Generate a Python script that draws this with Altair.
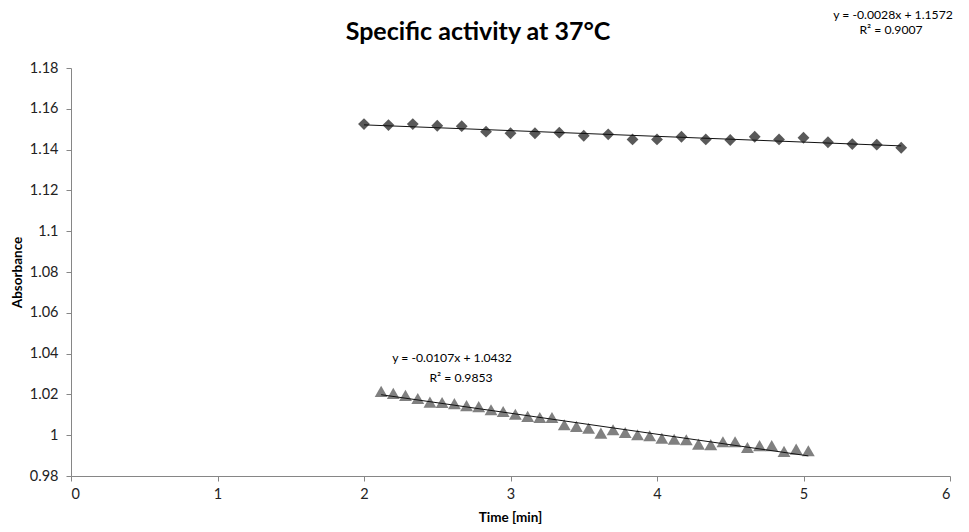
import altair as alt
import pandas as pd

# ---- data ----
time_upper = [2.000, 2.167, 2.333, 2.500, 2.667, 2.833, 3.000, 3.167, 3.333, 3.500, 3.667, 3.833,
              4.000, 4.167, 4.333, 4.500, 4.667, 4.833, 5.000, 5.167, 5.333, 5.500, 5.667]
abs_upper = [1.1525, 1.1520, 1.1525, 1.1517, 1.1515, 1.1488, 1.1480, 1.1480, 1.1483, 1.1468, 1.1475, 1.1450,
             1.1450, 1.1463, 1.1450, 1.1447, 1.1463, 1.1450, 1.1458, 1.1436, 1.1427, 1.1424, 1.1409]

time_lower = [2.117, 2.200, 2.283, 2.367, 2.450, 2.533, 2.617, 2.700, 2.783, 2.867, 2.950, 3.033,
              3.117, 3.200, 3.283, 3.367, 3.450, 3.533, 3.617, 3.700, 3.783, 3.867, 3.950, 4.033,
              4.117, 4.200, 4.283, 4.367, 4.450, 4.533, 4.617, 4.700, 4.783, 4.867, 4.950, 5.033]
abs_lower = [1.0215, 1.0205, 1.0195, 1.0180, 1.0162, 1.0160, 1.0155, 1.0145, 1.0140, 1.0125, 1.0116, 1.0103,
             1.0092, 1.0087, 1.0087, 1.0051, 1.0043, 1.0034, 1.0010, 1.0027, 1.0013, 1.0002, 0.9997, 0.9985,
             0.9980, 0.9978, 0.9956, 0.9954, 0.9968, 0.9968, 0.9940, 0.9949, 0.9949, 0.9921, 0.9932, 0.9924]

x_ticks = [0, 1, 2, 3, 4, 5, 6]
y_ticks = [0.98, 1.0, 1.02, 1.04, 1.06, 1.08, 1.1, 1.12, 1.14, 1.16, 1.18]

title_text = "Specific activity at 37°C"
eq_upper = ["y = -0.0028x + 1.1572", "R² = 0.9007"]
eq_lower = ["y = -0.0107x + 1.0432", "R² = 0.9853"]

FONT = "Lato"

upper = pd.DataFrame({"t": time_upper, "a": abs_upper})
lower = pd.DataFrame({"t": time_lower, "a": abs_lower})

x_enc = alt.X("t:Q", scale=alt.Scale(domain=[0, 6], nice=False, zero=False),
              axis=alt.Axis(values=x_ticks, title="Time [min]", grid=False,
                            domainColor="#868686", tickColor="#868686", tickSize=5,
                            labelFont=FONT, labelFontSize=14.5, labelColor="#222222", labelPadding=6,
                            titleFont=FONT, titleFontSize=13.5, titleFontWeight="bold", titleColor="#000000",
                            titleX=439, titleY=41, titleBaseline="middle"))
y_enc = alt.Y("a:Q", scale=alt.Scale(domain=[0.98, 1.18], nice=False, zero=False),
              axis=alt.Axis(values=y_ticks, format=".3~r", title="Absorbance", grid=False,
                            domainColor="#868686", tickColor="#868686", tickSize=5,
                            labelFont=FONT, labelFontSize=14.5, labelColor="#222222", labelPadding=8,
                            titleFont=FONT, titleFontSize=13.5, titleFontWeight="bold", titleColor="#000000",
                            titleX=-54, titleY=204, titleBaseline="middle"))

pts_up = alt.Chart(upper).mark_point(shape="diamond", filled=True, size=140, color="#595959",
                                     opacity=1).encode(x=x_enc, y=y_enc)
pts_lo = alt.Chart(lower).mark_point(shape="triangle-up", filled=True, size=165, color="#808080",
                                     opacity=1).encode(x=x_enc, y=y_enc)
reg_up = alt.Chart(upper).transform_regression("t", "a").mark_line(
    color="#111111", strokeWidth=1).encode(x=x_enc, y=y_enc)
reg_lo = alt.Chart(lower).transform_regression("t", "a").mark_line(
    color="#111111", strokeWidth=1).encode(x=x_enc, y=y_enc)


def label(txt, px, py, size=12.2, weight="normal"):
    return alt.Chart(pd.DataFrame({"label": [txt]})).mark_text(
        font=FONT, fontSize=size, fontWeight=weight, color="#000000",
        align="center", baseline="alphabetic").encode(
        text="label:N", x=alt.value(px), y=alt.value(py))


texts = [
    label(title_text, 407, -28, size=25, weight="bold"),
    label(eq_upper[0], 822, -49),
    label(eq_upper[1], 820, -34),
    label(eq_lower[0], 381, 294),
    label(eq_lower[1], 390, 314),
]

chart = alt.layer(pts_up, pts_lo, reg_up, reg_lo, *texts).properties(
    width=879, height=408,
    autosize=alt.AutoSizeParams(type="none"),
    padding={"left": 71, "top": 68, "right": 19, "bottom": 56},
    background="white",
).configure_view(stroke=None)

chart.save("out.html", embed_options={"renderer": "svg", "actions": False})
